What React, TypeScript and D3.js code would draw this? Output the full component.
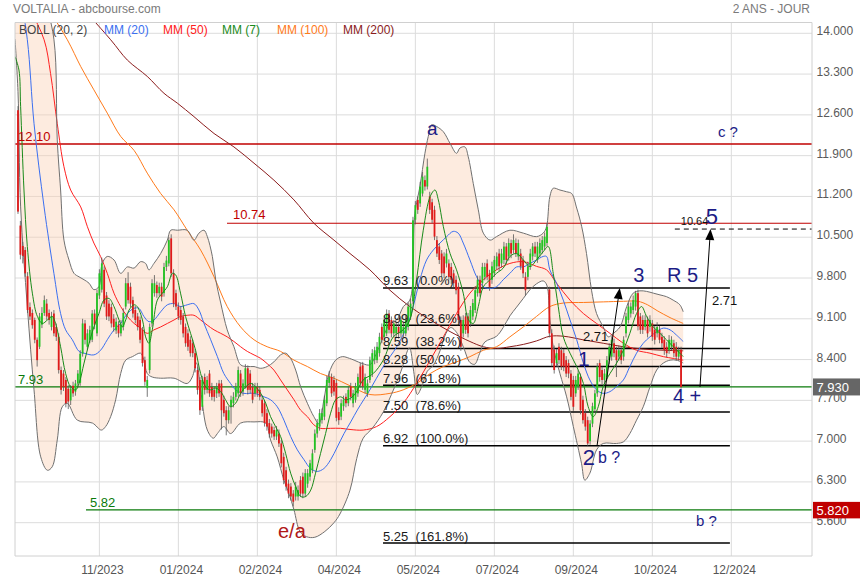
import React from "react";
import * as d3 from "d3";

// ---------- Candle data (daily, index 0 = first visible session) ----------
const OPEN = [
  12.68, 10.70, 10.35, 10.28, 9.83, 9.30, 9.20, 9.08, 8.74, 8.62,
  9.00, 9.20, 9.36, 9.20, 8.96, 9.19, 8.96, 8.79, 8.22, 8.16,
  8.05, 7.90, 7.70, 7.95, 7.85, 7.99, 8.00, 8.50, 9.02, 8.62,
  8.74, 8.74, 9.19, 8.85, 9.50, 9.60, 9.94, 9.50, 9.36, 9.30,
  9.10, 8.90, 9.00, 8.85, 8.96, 9.31, 9.71, 9.65, 9.42, 9.25,
  9.14, 9.08, 8.91, 8.39, 7.91, 8.22, 9.02, 9.54, 9.68, 9.54,
  9.65, 9.54, 9.99, 10.05, 10.48, 9.88, 9.54, 9.31, 9.25, 9.14,
  8.96, 8.85, 8.74, 8.68, 8.51, 8.22, 8.05, 7.59, 8.10, 7.88,
  8.16, 7.93, 7.88, 7.82, 7.99, 7.99, 7.71, 7.53, 7.36, 7.59,
  7.65, 7.76, 7.82, 8.16, 7.85, 7.95, 8.25, 8.16, 7.93, 7.82,
  7.93, 7.88, 7.71, 7.65, 7.48, 7.31, 7.25, 7.19, 7.08, 7.13,
  6.96, 6.73, 6.50, 6.27, 6.22, 6.10, 6.05, 6.05, 6.33, 6.39,
  6.10, 6.27, 6.39, 6.50, 6.85, 7.13, 7.25, 7.36, 7.42, 7.65,
  8.00, 8.10, 8.05, 8.00, 7.50, 7.42, 7.60, 7.76, 7.65, 7.94,
  7.65, 7.71, 7.82, 8.28, 8.30, 7.88, 7.82, 8.05, 8.16, 8.39,
  8.39, 8.51, 8.96, 8.79, 8.85, 9.19, 9.08, 8.85, 8.85, 8.96,
  8.85, 8.85, 8.85, 8.96, 9.14, 9.40, 10.80, 11.14, 11.08, 11.25,
  11.48, 11.37, 11.20, 11.10, 10.97, 10.45, 10.34, 10.22, 10.17, 10.05,
  10.05, 9.99, 9.88, 9.77, 9.65, 9.08, 8.85, 9.14, 9.14, 9.02,
  9.14, 9.25, 9.54, 9.77, 9.71, 9.82, 10.05, 9.88, 9.77, 9.88,
  10.00, 10.22, 10.05, 10.11, 10.34, 10.17, 10.40, 10.28, 10.40, 10.17,
  10.22, 10.11, 9.82, 9.82, 10.00, 10.17, 10.34, 10.11, 10.22, 10.28,
  10.34, 10.40, 9.60, 8.85, 8.57, 8.34, 8.62, 8.56, 8.51, 8.39,
  8.34, 8.16, 8.05, 7.82, 7.94, 8.10, 7.71, 7.48, 7.36, 7.00,
  7.30, 7.55, 7.82, 8.34, 8.22, 8.05, 8.10, 8.39, 8.45, 8.68,
  8.56, 8.45, 8.56, 8.45, 8.85, 9.08, 9.19, 9.25, 9.31, 9.54,
  9.14, 9.08, 8.96, 9.08, 8.96, 9.02, 8.91, 8.85, 8.91, 8.79,
  8.74, 8.62, 8.56, 8.62, 8.68, 8.62, 8.45, 8.57,
];
const HIGH = [
  12.75, 10.78, 10.42, 10.33, 9.90, 9.38, 9.26, 9.12, 8.78, 9.20,
  9.30, 9.50, 9.44, 9.26, 9.22, 9.25, 9.02, 8.85, 8.28, 8.22,
  8.10, 7.96, 7.96, 8.02, 8.05, 8.22, 8.56, 9.10, 9.08, 8.92,
  8.98, 9.25, 9.26, 9.60, 9.95, 10.15, 10.00, 9.56, 9.42, 9.36,
  9.18, 9.12, 9.06, 9.08, 9.28, 9.80, 9.90, 9.72, 9.48, 9.32,
  9.20, 9.14, 8.96, 8.45, 8.12, 9.02, 9.78, 9.85, 9.74, 9.72,
  9.72, 10.06, 10.18, 10.50, 10.55, 9.95, 9.60, 9.38, 9.32, 9.20,
  9.02, 8.92, 8.80, 8.74, 8.58, 8.28, 8.10, 8.12, 8.16, 8.12,
  8.22, 8.00, 7.94, 8.00, 8.05, 8.05, 7.78, 7.60, 7.60, 7.78,
  7.84, 8.00, 8.28, 8.22, 8.06, 8.32, 8.30, 8.22, 8.00, 8.00,
  8.00, 7.94, 7.78, 7.70, 7.55, 7.38, 7.30, 7.25, 7.26, 7.20,
  7.02, 6.80, 6.56, 6.34, 6.28, 6.16, 6.30, 6.24, 6.40, 6.46,
  6.52, 6.52, 6.68, 6.86, 7.20, 7.38, 7.55, 7.56, 7.78, 8.12,
  8.20, 8.16, 8.12, 8.06, 7.58, 7.72, 7.78, 7.82, 7.94, 8.00,
  7.88, 8.00, 8.16, 8.34, 8.36, 8.16, 8.06, 8.45, 8.58, 8.62,
  8.70, 8.86, 9.02, 9.14, 9.26, 9.25, 9.14, 9.08, 9.04, 9.02,
  9.14, 9.04, 9.16, 9.38, 9.44, 10.85, 11.12, 11.20, 11.45, 11.62,
  11.56, 11.85, 11.28, 11.16, 11.04, 10.52, 10.40, 10.28, 10.24, 10.30,
  10.12, 10.06, 9.94, 9.84, 9.72, 9.14, 9.16, 9.20, 9.20, 9.32,
  9.44, 9.66, 9.84, 9.84, 10.06, 10.06, 10.12, 9.94, 10.08, 10.18,
  10.24, 10.30, 10.30, 10.42, 10.40, 10.48, 10.46, 10.55, 10.48, 10.46,
  10.30, 10.18, 9.90, 10.08, 10.30, 10.40, 10.42, 10.42, 10.48, 10.52,
  10.58, 10.74, 9.65, 8.92, 8.64, 8.58, 8.68, 8.62, 8.58, 8.46,
  8.40, 8.22, 8.12, 8.12, 8.22, 8.16, 7.78, 7.55, 7.42, 7.36,
  7.66, 7.88, 8.34, 8.40, 8.28, 8.24, 8.46, 8.68, 8.80, 8.76,
  8.62, 8.64, 8.62, 8.80, 9.20, 9.38, 9.38, 9.50, 9.58, 9.60,
  9.20, 9.16, 9.16, 9.14, 9.16, 9.08, 8.98, 9.04, 8.98, 8.86,
  8.80, 8.70, 8.82, 8.80, 8.74, 8.70, 8.62, 8.62,
];
const LOW = [
  10.90, 10.12, 10.05, 9.82, 9.20, 9.08, 8.93, 8.68, 8.28, 8.58,
  8.94, 9.15, 9.08, 9.00, 8.90, 8.80, 8.72, 8.16, 7.80, 7.86,
  7.58, 7.55, 7.62, 7.76, 7.78, 7.92, 7.95, 8.45, 8.66, 8.56,
  8.68, 8.70, 8.92, 8.80, 9.44, 9.55, 9.30, 9.08, 9.06, 8.95,
  8.88, 8.84, 8.78, 8.80, 8.90, 9.26, 9.36, 9.30, 9.12, 9.02,
  8.90, 8.68, 8.28, 7.95, 7.76, 8.16, 8.96, 9.48, 9.46, 9.48,
  9.40, 9.48, 9.92, 10.00, 9.82, 9.30, 9.25, 9.08, 9.00, 8.78,
  8.62, 8.55, 8.45, 8.44, 8.18, 7.80, 7.45, 7.52, 7.80, 7.82,
  7.76, 7.70, 7.68, 7.74, 7.76, 7.20, 7.42, 7.10, 7.30, 7.30,
  7.58, 7.70, 7.76, 7.76, 7.78, 7.90, 7.80, 7.82, 7.65, 7.76,
  7.76, 7.70, 7.42, 7.25, 7.18, 7.06, 7.06, 7.02, 7.02, 6.90,
  6.55, 6.26, 6.15, 6.02, 5.98, 5.88, 5.98, 5.98, 6.04, 6.02,
  6.04, 6.20, 6.32, 6.45, 6.80, 7.06, 7.18, 7.30, 7.36, 7.60,
  7.92, 7.76, 7.78, 7.34, 7.28, 7.36, 7.52, 7.58, 7.60, 7.70,
  7.58, 7.66, 7.76, 7.92, 7.88, 7.82, 7.76, 8.00, 8.10, 8.32,
  8.34, 8.45, 8.68, 8.72, 8.80, 8.85, 8.78, 8.78, 8.78, 8.76,
  8.78, 8.78, 8.80, 8.90, 9.08, 9.35, 10.72, 10.90, 11.02, 11.20,
  11.30, 11.32, 10.90, 10.74, 10.45, 10.16, 10.04, 9.82, 9.80, 9.98,
  9.76, 9.70, 9.64, 9.52, 9.02, 8.55, 8.78, 8.84, 8.78, 8.96,
  9.08, 9.20, 9.48, 9.48, 9.64, 9.76, 9.76, 9.58, 9.70, 9.82,
  9.94, 9.92, 9.98, 10.04, 10.04, 10.10, 10.14, 10.22, 10.16, 10.10,
  9.94, 9.80, 9.50, 9.76, 9.94, 10.10, 10.16, 10.06, 10.16, 10.22,
  10.28, 10.34, 8.78, 8.28, 8.16, 8.28, 8.32, 8.22, 8.20, 8.10,
  8.08, 7.70, 7.52, 7.76, 7.88, 7.46, 7.30, 7.18, 6.92, 6.94,
  7.24, 7.48, 7.76, 8.02, 7.98, 7.98, 8.04, 8.32, 8.38, 8.44,
  8.10, 8.38, 8.32, 8.38, 8.78, 9.02, 9.12, 9.18, 9.24, 8.90,
  8.84, 8.84, 8.90, 8.78, 8.88, 8.72, 8.66, 8.78, 8.68, 8.60,
  8.48, 8.44, 8.50, 8.56, 8.44, 8.38, 8.38, 7.90,
];
const CLOSE = [
  10.94, 10.20, 10.18, 9.88, 9.25, 9.14, 8.99, 8.74, 8.39, 9.14,
  9.20, 9.42, 9.14, 9.08, 9.14, 8.85, 8.79, 8.22, 7.88, 7.93,
  7.65, 7.68, 7.90, 7.82, 7.99, 8.16, 8.50, 9.02, 8.74, 8.85,
  8.91, 9.19, 9.00, 9.54, 9.88, 10.05, 9.36, 9.14, 9.14, 9.02,
  8.96, 9.05, 8.85, 9.00, 9.20, 9.71, 9.42, 9.36, 9.19, 9.08,
  8.96, 8.74, 8.34, 8.02, 8.05, 8.96, 9.71, 9.71, 9.54, 9.65,
  9.48, 9.99, 10.10, 10.45, 9.88, 9.36, 9.31, 9.14, 9.08, 8.85,
  8.68, 8.62, 8.51, 8.51, 8.25, 7.88, 7.53, 8.05, 7.88, 8.05,
  7.82, 7.76, 7.76, 7.93, 7.82, 7.53, 7.48, 7.36, 7.53, 7.71,
  7.76, 7.93, 8.22, 7.82, 7.99, 8.25, 7.88, 7.88, 7.71, 7.93,
  7.82, 7.76, 7.48, 7.31, 7.25, 7.13, 7.13, 7.08, 7.19, 6.96,
  6.62, 6.33, 6.22, 6.10, 6.05, 5.96, 6.22, 6.16, 6.10, 6.10,
  6.45, 6.45, 6.62, 6.79, 7.13, 7.31, 7.48, 7.48, 7.71, 8.05,
  8.10, 7.82, 7.85, 7.40, 7.36, 7.65, 7.71, 7.65, 7.88, 7.76,
  7.82, 7.94, 8.10, 7.99, 7.94, 8.10, 7.99, 8.39, 8.51, 8.56,
  8.62, 8.79, 8.74, 9.08, 9.19, 8.91, 8.85, 9.02, 8.96, 8.85,
  9.08, 8.96, 9.08, 9.31, 9.36, 10.79, 11.05, 10.97, 11.37, 11.54,
  11.37, 11.71, 10.97, 10.80, 10.51, 10.22, 10.11, 9.88, 9.88, 10.22,
  9.82, 9.77, 9.71, 9.59, 9.08, 8.62, 9.08, 8.91, 8.85, 9.25,
  9.37, 9.59, 9.77, 9.54, 9.99, 9.99, 9.82, 9.65, 10.00, 10.11,
  10.17, 10.00, 10.22, 10.34, 10.11, 10.40, 10.22, 10.45, 10.22, 10.40,
  10.00, 9.88, 9.59, 10.00, 10.22, 10.34, 10.22, 10.34, 10.40, 10.45,
  10.51, 10.68, 8.85, 8.34, 8.22, 8.51, 8.39, 8.28, 8.28, 8.16,
  8.16, 7.76, 7.59, 8.05, 8.16, 7.53, 7.36, 7.25, 6.96, 7.30,
  7.60, 7.82, 8.28, 8.10, 8.05, 8.16, 8.39, 8.62, 8.74, 8.51,
  8.39, 8.56, 8.39, 8.74, 9.14, 9.31, 9.31, 9.42, 9.54, 8.97,
  8.91, 8.91, 9.08, 8.85, 9.08, 8.79, 8.74, 8.96, 8.74, 8.68,
  8.56, 8.51, 8.74, 8.74, 8.51, 8.45, 8.56, 7.93,
];

// ---------- Indicator curves: [session index, price] ----------
const BB_UP = [
  [-1.25, 17.5], [5, 16.0], [10, 14.8], [15, 13.9], [16.4, 12.17], [17.8, 11.31], [19.2, 10.45], [21.3, 10.11],
  [23.4, 9.88], [25.5, 9.82], [27.6, 9.77], [29.7, 9.71], [31.7, 9.6], [33.8, 9.65], [35.2, 10.05], [37.3, 10.17],
  [40.1, 10.11], [42.9, 9.88], [45.7, 9.99], [48.5, 9.97], [51.2, 10.08], [53.3, 10.05], [54.7, 9.94], [56.8, 10.05],
  [59.6, 10.22], [62.4, 10.45], [63.8, 10.62], [66.6, 10.62], [70.7, 10.62], [73.5, 10.45], [75.6, 10.57], [77.7, 10.62],
  [79.1, 10.51], [81.2, 10.17], [82.6, 9.77], [84.7, 9.37], [87.4, 8.91], [90.2, 8.62], [93.0, 8.31], [95.8, 8.28],
  [98.6, 8.28], [101.4, 8.25], [104.1, 8.28], [106.9, 8.36], [109.7, 8.48], [111.8, 8.51], [113.9, 8.42], [116.0, 8.22],
  [118.1, 7.93], [120.9, 7.65], [123.6, 7.42], [125.7, 7.3], [127.8, 7.71], [129.9, 8.16], [132.7, 8.39], [135.5, 8.45],
  [138.5, 8.42], [140.4, 8.39], [144, 8.33], [147.0, 8.31], [149.8, 8.51], [152.6, 8.79], [155.4, 9.02], [158.2, 9.08],
  [161, 9.31], [163.7, 9.42], [165.8, 10.91], [167.9, 11.37], [170, 11.94], [171.4, 12.23], [172.8, 12.43], [174.9, 12.4],
  [177.7, 12.31], [180.5, 12.11], [183.2, 11.94], [184.6, 12.03], [186.7, 12.05], [188.1, 11.88], [190.2, 11.42], [192.3, 10.97],
  [194.4, 10.57], [197.2, 10.45], [199.9, 10.51], [205.5, 10.62], [211.1, 10.57], [216.6, 10.51], [219.4, 10.57], [220.8, 10.68],
  [222.2, 11.2], [223.6, 11.34], [226.4, 11.31], [229.2, 11.28], [231.3, 11.25], [233.4, 11.0], [235.5, 10.68], [237.5, 10.22],
  [239.6, 9.59], [241.7, 9.19], [244.5, 8.96], [246.6, 8.79], [248.7, 8.85], [251.5, 8.96], [254.3, 9.31], [257.0, 9.54],
  [259.8, 9.58], [262.6, 9.57], [265.4, 9.54], [268.2, 9.51], [270.9, 9.48], [273.7, 9.42], [276.5, 9.34], [277.9, 9.22],
];
const BB_LO = [
  [-1.25, 13.9], [0, 13.0], [1.1, 11.02], [3.9, 9.31], [6.7, 7.88], [9.5, 6.73], [12.3, 6.5], [14.3, 6.56],
  [16.4, 7.02], [18.5, 7.59], [20.6, 7.65], [24.8, 7.36], [31.1, 7.31], [34.8, 7.19], [36.6, 7.25], [38.7, 7.42],
  [40.8, 7.71], [42.9, 8.16], [45.0, 8.39], [47.8, 8.45], [51.2, 8.51], [52.6, 8.39], [54.0, 8.16], [56.1, 8.1],
  [59.6, 8.08], [65.2, 8.08], [70.7, 7.99], [72.8, 8.1], [74.6, 8.34], [76.3, 7.88], [79.1, 7.19], [81.6, 7.05],
  [83.3, 7.13], [86.0, 7.25], [88.8, 7.13], [93.0, 7.31], [98.6, 7.33], [103.5, 7.31], [105.5, 7.02], [108.3, 6.73],
  [111.1, 6.33], [113.2, 6.1], [115.3, 5.82], [117.8, 5.45], [120.5, 5.36], [124, 5.35], [128.2, 5.45], [132, 5.6],
  [134.5, 5.75], [138.7, 6.16], [141.5, 6.7], [144.2, 7.05], [148, 7.22], [152.6, 7.5], [156, 7.8], [160, 8.2],
  [163.5, 8.6], [165.3, 8.2], [166.8, 7.8], [168.8, 7.95], [171, 8.2], [173.5, 8.3], [176.3, 8.55], [178.8, 8.85],
  [180.8, 8.95], [183.5, 8.85], [186.2, 8.6], [188.8, 8.35], [190.8, 8.32], [192.8, 8.5], [195, 8.7], [199.9, 8.8],
  [202.7, 8.95], [205.5, 9.15], [208.3, 9.3], [211.1, 9.45], [213.9, 9.6], [216.6, 9.7], [219.4, 9.75], [220.9, 9.68],
  [222.2, 9.08], [223.6, 8.62], [226.4, 8.16], [229.2, 7.76], [232, 7.25], [235.4, 6.62], [236.8, 6.33], [238.9, 6.45],
  [241.7, 6.85], [244.5, 6.96], [250, 6.96], [253, 6.99], [255.6, 7.13], [258.4, 7.36], [261.2, 7.59], [264, 7.93],
  [266.8, 8.22], [269.6, 8.34], [272.4, 8.39], [275.1, 8.39], [277.9, 8.34],
];
const MM7 = [
  [-1.25, 13.6], [0.4, 13.37], [1.1, 12.74], [2.5, 11.31], [3.9, 10.34], [6.0, 9.54], [8.1, 9.14], [10.2, 9.02],
  [12.3, 9.08], [14.3, 9.14], [15.7, 9.02], [17.8, 8.62], [19.9, 8.16], [22.0, 7.93], [24.1, 7.88], [25.5, 7.99],
  [27.6, 8.34], [29.7, 8.68], [31.7, 8.96], [33.8, 9.19], [35.9, 9.42], [38.0, 9.45], [40.1, 9.31], [42.2, 9.08],
  [43.6, 8.96], [45.0, 9.08], [46.4, 9.25], [48.5, 9.34], [49.8, 9.31], [52.0, 9.08], [53.3, 8.79], [54.7, 8.68],
  [56.1, 8.91], [58.2, 9.42], [60.3, 9.54], [62.4, 9.65], [64.5, 9.88], [65.9, 9.85], [67.9, 9.54], [70.0, 9.14],
  [72.1, 8.85], [74.2, 8.56], [76.3, 8.16], [78.4, 7.93], [80.5, 7.88], [82.6, 7.91], [84.7, 7.85], [86.7, 7.71],
  [88.8, 7.59], [90.9, 7.65], [93.0, 7.82], [95.1, 7.93], [97.2, 7.99], [99.3, 7.93], [101.4, 7.82], [103.5, 7.65],
  [105.5, 7.42], [107.6, 7.25], [109.7, 7.08], [111.8, 6.79], [113.9, 6.45], [116.0, 6.22], [118.1, 6.05], [120.2, 6.05],
  [122.3, 6.16], [124.3, 6.45], [126.4, 6.79], [128.5, 7.13], [130.6, 7.48], [132.7, 7.71], [134.8, 7.76], [136.9, 7.71],
  [139.0, 7.74], [141, 7.82], [144.2, 8.05], [148.4, 8.16], [152.6, 8.39], [156.8, 8.79], [160.9, 8.91], [163.7, 9.08],
  [166.5, 9.77], [169.3, 10.62], [172.2, 11.2], [174.2, 11.31], [175.6, 11.14], [177.7, 10.68], [180.5, 10.22], [183.2, 9.94],
  [186.0, 9.54], [188.2, 9.08], [190.2, 9.02], [192.3, 9.31], [194.4, 9.65], [197.2, 9.77], [199.9, 9.88], [202.7, 9.97],
  [205.5, 10.17], [208.3, 10.22], [211.1, 10.11], [213.9, 9.995], [216.6, 10.11], [219.4, 10.25], [221.5, 10.34], [223.6, 9.88],
  [225.7, 9.31], [227.8, 8.79], [230.6, 8.51], [233.4, 8.28], [236.2, 7.99], [238.2, 7.59], [240.3, 7.42], [242.4, 7.59],
  [244.5, 7.94], [247.3, 8.16], [250.1, 8.34], [252.9, 8.56], [255.6, 8.85], [258.4, 9.19], [260.5, 9.31], [262.6, 9.14],
  [265.4, 8.96], [268.2, 8.85], [270.9, 8.74], [273.7, 8.62], [276.5, 8.51], [277.9, 8.45],
];
const MM20 = [
  [-1.25, 15.2], [0, 14.9], [3.9, 13.89], [6.7, 12.45], [10.9, 11.02], [15.0, 9.88], [17.8, 9.19], [19.9, 8.91],
  [22.7, 8.74], [25.5, 8.54], [27.6, 8.51], [31.7, 8.48], [34.5, 8.56], [37.3, 8.74], [40.1, 8.91], [42.9, 9.02],
  [45.7, 9.19], [48.5, 9.28], [50.5, 9.28], [52.6, 9.14], [54.7, 9.05], [56.8, 9.08], [59.6, 9.22], [62.4, 9.34],
  [65.2, 9.36], [67.9, 9.31], [70.7, 9.34], [73.5, 9.36], [75.6, 9.25], [77.7, 9.02], [80.5, 8.74], [83.3, 8.45],
  [86.0, 8.16], [88.8, 7.99], [90.9, 7.88], [94.4, 7.82], [98.6, 7.82], [102.8, 7.76], [105.5, 7.71], [108.3, 7.59],
  [111.1, 7.36], [113.9, 7.08], [116.7, 6.85], [119.5, 6.68], [122.2, 6.53], [125.0, 6.48], [127.8, 6.53], [130.6, 6.68],
  [133.4, 6.9], [136.2, 7.13], [139.0, 7.33], [142, 7.55], [147.0, 7.88], [152.6, 8.28], [158.2, 8.62], [162.4, 8.96],
  [165.1, 9.31], [167.9, 9.77], [170.7, 10.11], [173.5, 10.28], [176.3, 10.4], [179.1, 10.51], [181.8, 10.6], [183.9, 10.57],
  [186.0, 10.4], [188.8, 10.11], [191.6, 9.82], [194.4, 9.65], [197.2, 9.62], [199.9, 9.65], [202.7, 9.77], [205.5, 9.88],
  [208.3, 9.99], [211.1, 9.99], [213.9, 10.05], [216.6, 10.11], [219.4, 10.17], [220.8, 10.17], [222.2, 9.94], [225.0, 9.71],
  [227.8, 9.42], [230.6, 9.08], [233.4, 8.74], [236.2, 8.34], [238.9, 8.05], [241.7, 7.88], [244.5, 7.82], [247.3, 7.85],
  [250.1, 7.94], [252.9, 8.05], [255.6, 8.28], [258.4, 8.51], [261.2, 8.68], [264.0, 8.79], [266.8, 8.88], [269.6, 8.94],
  [272.4, 8.91], [275.1, 8.82], [277.9, 8.71],
];
const MM50 = [
  [-1.25, 14.8], [5, 14.4], [10.9, 13.89], [13.6, 13.31], [16.4, 12.45], [19.2, 11.71], [22.0, 11.31], [26.2, 11.02],
  [29.0, 10.68], [31.7, 10.4], [34.5, 10.17], [37.3, 9.88], [40.1, 9.54], [42.9, 9.31], [45.7, 9.14], [48.5, 9.02],
  [51.2, 8.94], [54.0, 8.85], [56.8, 8.91], [59.6, 8.96], [62.4, 9.02], [65.2, 9.08], [67.9, 9.14], [70.7, 9.16],
  [73.5, 9.16], [76.3, 9.08], [79.1, 8.99], [81.9, 8.91], [84.7, 8.85], [87.4, 8.79], [90.2, 8.71], [93.0, 8.62],
  [95.8, 8.54], [98.6, 8.48], [101.4, 8.42], [104.1, 8.33], [106.9, 8.22], [109.7, 8.05], [112.5, 7.88], [115.3, 7.71],
  [118.1, 7.53], [120.9, 7.42], [123.6, 7.28], [126.4, 7.22], [130.6, 7.22], [134.8, 7.22], [138.7, 7.2], [144.2, 7.19],
  [149.8, 7.25], [155.4, 7.42], [160.9, 7.65], [166.5, 7.99], [172.2, 8.39], [177.7, 8.79], [183.2, 9.19], [188.8, 9.54],
  [194.4, 9.77], [199.9, 9.94], [205.5, 10.05], [211.1, 10.08], [216.6, 10.0], [220.8, 9.94], [225, 9.71], [230.6, 9.42],
  [236.2, 9.19], [241.7, 9.02], [247.3, 8.85], [252.9, 8.68], [258.4, 8.56], [264, 8.51], [269.6, 8.45], [273.7, 8.42],
  [277.9, 8.39],
];
const MM100 = [
  [-1.25, 15.4], [10, 14.6], [20.6, 13.89], [26.2, 13.43], [31.7, 13.03], [37.3, 12.63], [42.9, 12.23], [48.5, 11.99],
  [54.0, 11.6], [59.6, 11.25], [65.2, 10.97], [70.7, 10.62], [76.3, 10.28], [81.9, 9.82], [87.4, 9.31], [93.0, 8.96],
  [98.6, 8.74], [104.1, 8.62], [109.7, 8.54], [115.3, 8.39], [120.9, 8.28], [126.4, 8.16], [132.0, 8.08], [138.7, 7.95],
  [147, 7.8], [155.4, 7.82], [160.9, 7.88], [166.5, 7.99], [172.2, 8.16], [177.7, 8.28], [183.2, 8.36], [188.8, 8.45],
  [194.4, 8.56], [199.9, 8.62], [205.5, 8.79], [211.1, 8.96], [216.6, 9.14], [222.2, 9.31], [227.8, 9.37], [236.2, 9.38],
  [244.5, 9.39], [252.9, 9.4], [259, 9.4], [263, 9.34], [267, 9.24], [272.4, 9.12], [277.9, 9.02],
];
const MM200 = [
  [-1.25, 15.7], [20, 14.75], [38.7, 13.89], [45.7, 13.54], [54.0, 13.26], [61.0, 12.97], [66.6, 12.8], [73.5, 12.57],
  [81.9, 12.28], [90.2, 12.05], [98.6, 11.77], [106.9, 11.48], [115.3, 11.14], [123.6, 10.74], [132.0, 10.45], [138.7, 10.22],
  [147, 9.94], [155.4, 9.59], [163.7, 9.31], [172.2, 9.08], [180.5, 8.88], [188.8, 8.71], [194.4, 8.62], [199.9, 8.59],
  [205.5, 8.62], [211.1, 8.66], [216.6, 8.72], [222.2, 8.8], [228, 8.8], [236, 8.74], [244.5, 8.68], [252.9, 8.62],
  [261.2, 8.58], [269.6, 8.56], [277.9, 8.55],
];

// ---------- Axes ----------
const Y_TICKS = [5.6, 6.3, 7.0, 7.7, 8.4, 9.1, 9.8, 10.5, 11.2, 11.9, 12.6, 13.3, 14.0];
const X_TICK_IDX = [34, 67, 100, 133, 166, 199, 232, 265, 298];
const X_TICK_LABELS = ["11/2023", "01/2024", "02/2024", "04/2024", "05/2024", "07/2024", "09/2024", "10/2024", "12/2024"];

// ---------- Drawn levels ----------
const FIB_LEVELS = [9.63, 8.99, 8.59, 8.28, 7.96, 7.5, 6.92, 5.25];
const FIB_PCT = ["0.0%", "23.6%", "38.2%", "50.0%", "61.8%", "78.6%", "100.0%", "161.8%"];
const FIB_SPAN = [152.5, 297.4];
const RES_LEVELS = [12.1, 10.74];
const RES_START = [-1.25, 87.3];
const SUP_LEVELS = [7.93, 5.82];
const SUP_START = [-1.25, 28.4];
const TARGET_LEVEL = 10.64;
const TARGET_START = 274.4;
const ARROWS = [
  [241.9, 6.92, 251.4, 9.63],
  [284.9, 7.93, 289.3, 10.64],
];
const ARROW_TEXT = ["2.71", "2.71"];
const ARROW_TEXT_POS = [[236, 8.72], [289.9, 9.34]];
const WAVE_TEXT = ["a", "c ?", "5", "3", "R 5", "1", "2", "b ?", "4 +", "b ?", "e/a"];
const WAVE_POS = [
  [173.1, 12.254], [292.4, 12.22], [289.9, 10.727], [259.4, 9.731], [271.1, 9.731], [236.4, 8.29],
  [238.5, 6.59], [242.3, 6.625], [273.6, 7.655], [283.2, 5.546], [108.6, 5.34],
];
const LEGEND = ["BOLL (20, 2)", "MM (20)", "MM (50)", "MM (7)", "MM (100)", "MM (200)"];
const LAST_PRICE = 7.93;
const SUPPORT_BADGE = 5.82;

const FONT = "'Liberation Sans', Arial, Helvetica, sans-serif";

export default function App() {
  const L = 15, R = 812, T = 22.5, B = 556;
  const x = d3.scaleLinear().domain([-1.25, 331.7]).range([L, R]);
  const y = d3.scaleLinear().domain([5.6, 14]).range([522.7, 33.3]);
  const curve = d3.curveCatmullRom.alpha(0.5);
  const line = d3.line<number[]>().x((d) => x(d[0])).y((d) => y(d[1])).curve(curve);

  const upPath = line(BB_UP as number[][]) || "";
  const loRev = line([...BB_LO].reverse() as number[][]) || "";
  const bandPath = upPath + "L" + loRev.slice(1) + "Z";

  const waveStyle = [
    { size: 19, anchor: "middle", color: "#1c1c86" },
    { size: 15, anchor: "start", color: "#1c1c86" },
    { size: 22, anchor: "middle", color: "#1c1c86" },
    { size: 20, anchor: "middle", color: "#1c1c86" },
    { size: 20, anchor: "start", color: "#1c1c86" },
    { size: 21, anchor: "middle", color: "#1c1c86" },
    { size: 22, anchor: "middle", color: "#1c1c86" },
    { size: 16, anchor: "start", color: "#1c1c86" },
    { size: 20, anchor: "start", color: "#1c1c86" },
    { size: 15, anchor: "start", color: "#1c1c86" },
    { size: 20, anchor: "start", color: "#b01818" },
  ];
  const legendX = [19, 104, 163, 222, 277, 343];
  const legendColor = ["#444", "#3b6ff0", "#ff2020", "#1a8a1a", "#ff7a1a", "#8b1c1c"];

  const bodyW = 1.8;

  return (
    <svg width={860} height={580} style={{ position: "absolute", left: 0, top: 0, background: "#fff" }} fontFamily={FONT}>
      <defs>
        <clipPath id="plot">
          <rect x={L} y={T} width={R - L} height={B - T} />
        </clipPath>
      </defs>
      <rect x={0} y={0} width={860} height={580} fill="#fff" />

      {/* grid */}
      {Y_TICKS.map((t, k) => (
        <line key={"gy" + k} x1={L} x2={R} y1={y(t)} y2={y(t)} stroke="#dcdcdc" strokeWidth={1} />
      ))}
      {X_TICK_IDX.map((t, k) => (
        <line key={"gx" + k} x1={x(t)} x2={x(t)} y1={T} y2={B} stroke="#dcdcdc" strokeWidth={1} />
      ))}

      <g clipPath="url(#plot)">
        {/* Bollinger fill */}
        <path d={bandPath} fill="#fbcfb2" fillOpacity={0.42} stroke="none" />

        {/* resistance / support lines */}
        {RES_LEVELS.map((v, k) => (
          <line key={"res" + k} x1={x(RES_START[k])} x2={R} y1={y(v)} y2={y(v)} stroke="#c00000" strokeWidth={k === 0 ? 1.3 : 1.1} />
        ))}
        {SUP_LEVELS.map((v, k) => (
          <line key={"sup" + k} x1={x(SUP_START[k])} x2={R} y1={y(v)} y2={y(v)} stroke="#0a7a0a" strokeWidth={1.3} />
        ))}

        {/* Fibonacci retracements */}
        {FIB_LEVELS.map((v, k) => (
          <line key={"fib" + k} x1={x(FIB_SPAN[0])} x2={x(FIB_SPAN[1])} y1={y(v)} y2={y(v)} stroke="#000" strokeWidth={1.5} />
        ))}
        <line x1={x(TARGET_START)} x2={R} y1={y(TARGET_LEVEL)} y2={y(TARGET_LEVEL)} stroke="#000" strokeWidth={1} strokeDasharray="5,4" />

        {/* moving averages */}
        <path d={line(MM200 as number[][]) || ""} fill="none" stroke="#8b1c1c" strokeWidth={1} />
        <path d={line(MM100 as number[][]) || ""} fill="none" stroke="#ff7a1a" strokeWidth={1} />
        <path d={line(MM50 as number[][]) || ""} fill="none" stroke="#ff2020" strokeWidth={1} />
        <path d={line(MM20 as number[][]) || ""} fill="none" stroke="#3b6ff0" strokeWidth={1} />
        <path d={upPath} fill="none" stroke="#707070" strokeWidth={1} />
        <path d={line(BB_LO as number[][]) || ""} fill="none" stroke="#707070" strokeWidth={1} />

        {/* candles */}
        {CLOSE.map((c, i) => {
          const o = OPEN[i];
          const up = c >= o;
          const cx = x(i);
          const top = y(Math.max(o, c));
          const h = Math.max(1, Math.abs(y(o) - y(c)));
          const col = up ? "#22c422" : "#e01a1a";
          return (
            <g key={"c" + i}>
              <line x1={cx} x2={cx} y1={y(HIGH[i])} y2={y(LOW[i])} stroke="#555" strokeWidth={0.8} />
              <rect x={cx - bodyW / 2} y={top} width={bodyW} height={h} fill={col} />
            </g>
          );
        })}

        <path d={line(MM7 as number[][]) || ""} fill="none" stroke="#1a8a1a" strokeWidth={1} />

        {/* arrows */}
        {ARROWS.map((a, k) => {
          const x1 = x(a[0]), y1 = y(a[1]), x2 = x(a[2]), y2 = y(a[3]);
          const ang = Math.atan2(y2 - y1, x2 - x1);
          const len = 11, hw = 4.5;
          const bx = x2 - len * Math.cos(ang), by = y2 - len * Math.sin(ang);
          const px = -Math.sin(ang) * hw, py = Math.cos(ang) * hw;
          return (
            <g key={"ar" + k}>
              <line x1={x1} y1={y1} x2={bx} y2={by} stroke="#000" strokeWidth={1} />
              <polygon points={`${x2},${y2} ${bx + px},${by + py} ${bx - px},${by - py}`} fill="#000" />
            </g>
          );
        })}
      </g>

      {/* level labels */}
      <text x={x(-1.25) + 3} y={y(12.1) - 3} fontSize={13} fill="#c00000">12.10</text>
      <text x={x(RES_START[1]) + 6} y={y(10.74) - 4} fontSize={13} fill="#c00000">10.74</text>
      <text x={x(-1.25) + 3} y={y(7.93) - 3} fontSize={13} fill="#0a7a0a">7.93</text>
      <text x={x(SUP_START[1]) + 4} y={y(5.82) - 3} fontSize={13} fill="#0a7a0a">5.82</text>
      <text x={x(TARGET_START) + 6} y={y(TARGET_LEVEL) - 4} fontSize={11} fill="#111">10.64</text>
      {FIB_LEVELS.map((v, k) => (
        <text key={"fl" + k} x={x(FIB_SPAN[0])} y={y(v) - 2.5} fontSize={13} fill="#1a1a1a" style={{ whiteSpace: "pre" }}>
          {v.toFixed(2) + "  (" + FIB_PCT[k] + ")"}
        </text>
      ))}
      {ARROW_TEXT.map((t, k) => (
        <text key={"at" + k} x={x(ARROW_TEXT_POS[k][0])} y={y(ARROW_TEXT_POS[k][1])} fontSize={13} fill="#111">{t}</text>
      ))}
      {WAVE_TEXT.map((t, k) => (
        <text key={"w" + k} x={x(WAVE_POS[k][0])} y={y(WAVE_POS[k][1])} fontSize={waveStyle[k].size}
          textAnchor={waveStyle[k].anchor as any} fill={waveStyle[k].color} style={{ whiteSpace: "pre" }}>{t}</text>
      ))}

      {/* frame */}
      <line x1={L} x2={R} y1={T} y2={T} stroke="#d0d0d0" />
      <line x1={L} x2={R} y1={B} y2={B} stroke="#d0d0d0" />
      <line x1={L} x2={L} y1={T} y2={B} stroke="#d0d0d0" />
      <line x1={R} x2={R} y1={T} y2={B} stroke="#d0d0d0" />

      {/* y axis labels */}
      {Y_TICKS.map((t, k) => (
        <text key={"yl" + k} x={R + 4.5} y={y(t) + 2} fontSize={12} fill="#5a5a5a">{t.toFixed(3)}</text>
      ))}
      <rect x={R + 1} y={y(LAST_PRICE) - 8.5} width={47} height={17} fill="#666" />
      <text x={R + 4.5} y={y(LAST_PRICE) + 5} fontSize={13} fill="#fff">{LAST_PRICE.toFixed(3)}</text>
      <rect x={R + 1} y={y(SUPPORT_BADGE) - 8} width={47} height={16.5} fill="#c00000" />
      <text x={R + 4.5} y={y(SUPPORT_BADGE) + 5} fontSize={13} fill="#fff">{SUPPORT_BADGE.toFixed(3)}</text>

      {/* x axis labels */}
      {X_TICK_IDX.map((t, k) => (
        <text key={"xl" + k} x={x(t) + 3} y={574} fontSize={12} fill="#555" textAnchor="middle">{X_TICK_LABELS[k]}</text>
      ))}

      {/* header + legend */}
      <text x={13} y={13} fontSize={12} fill="#7a7a7a">VOLTALIA - abcbourse.com</text>
      <text x={810} y={13} fontSize={12} fill="#7a7a7a" textAnchor="end">2 ANS - JOUR</text>
      {LEGEND.map((t, k) => (
        <text key={"lg" + k} x={legendX[k]} y={34} fontSize={12} fill={legendColor[k]}>{t}</text>
      ))}
    </svg>
  );
}
